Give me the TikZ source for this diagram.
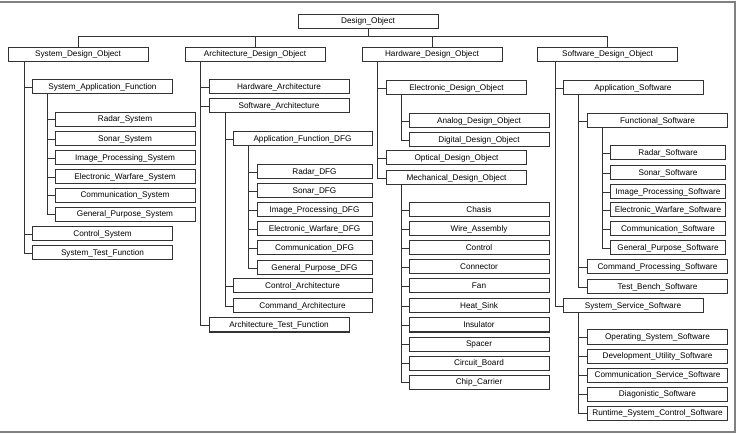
\documentclass[tikz,border=0pt]{standalone}
\usepackage{fontspec}
\setmainfont{Liberation Sans}
\usetikzlibrary{calc}

\begin{document}
\begin{tikzpicture}[x=1pt, y=-1pt,
    obj/.style={draw=black!80, line width=1pt, fill=white, minimum width=140pt, minimum height=14pt, inner sep=0pt, font=\fontsize{8.2}{9}\selectfont},
    leaf/.style={obj, minimum width=115pt},
    link/.style={draw=black!80, line width=0.9pt}]
    \useasboundingbox (0,0) rectangle (741,435);
    \draw[gray, line width=1.3pt] (0,2) -- (735,2) -- (735,432) -- (0,432);

    % root and the four top objects
    \node[obj] (root) at (368,21.5) {Design\_Object};
    \node[obj] (sysobj) at (78,54.5) {System\_Design\_Object};
    \node[obj] (archobj) at (255,54.5) {Architecture\_Design\_Object};
    \node[obj] (hwobj) at (432,54.5) {Hardware\_Design\_Object};
    \node[obj] (swobj) at (607.5,54.5) {Software\_Design\_Object};
    \coordinate (bus) at (368,36);
    \draw[link] (root.south) -- (bus);
    \foreach \n in {sysobj, archobj, hwobj, swobj}
        \draw[link] (\n.north) |- (bus);

    % system design
    \foreach \n/\t/\y in {saf/System\_Application\_Function/87, ctlsys/Control\_System/234, testsys/System\_Test\_Function/253} {
        \node[obj] (\n) at (102.5,\y) {\t};
        \draw[link] ($(sysobj.south west)+(17,0)$) |- (\n.west);
    }
    \foreach \n/\t/\y in {radsys/Radar\_System/119.5, sonsys/Sonar\_System/139, imgsys/Image\_Processing\_System/158,
        ewsys/Electronic\_Warfare\_System/177, comsys/Communication\_System/195.5, gpsys/General\_Purpose\_System/214.5} {
        \node[obj] (\n) at (125,\y) {\t};
        \draw[link] ($(saf.south west)+(15,0)$) |- (\n.west);
    }

    % architecture design
    \foreach \n/\t/\y in {hwarch/Hardware\_Architecture/87, swarch/Software\_Architecture/106, archtest/Architecture\_Test\_Function/325} {
        \node[obj] (\n) at (279,\y) {\t};
        \draw[link] ($(archobj.south west)+(16,0)$) |- (\n.west);
    }
    \foreach \n/\t/\y in {afdfg/Application\_Function\_DFG/139, ctlarch/Control\_Architecture/286, cmdarch/Command\_Architecture/306} {
        \node[obj, minimum width=139pt] (\n) at (302.5,\y) {\t};
        \draw[link] ($(swarch.south west)+(17,0)$) |- (\n.west);
    }
    \foreach \n/\t/\y in {raddfg/Radar\_DFG/172, sondfg/Sonar\_DFG/191, imgdfg/Image\_Processing\_DFG/210,
        ewdfg/Electronic\_Warfare\_DFG/229, comdfg/Communication\_DFG/248, gpdfg/General\_Purpose\_DFG/268} {
        \node[leaf] (\n) at (314.5,\y) {\t};
        \draw[link] ($(afdfg.south west)+(16,0)$) |- (\n.west);
    }

    % hardware design
    \foreach \n/\t/\y in {elec/Electronic\_Design\_Object/88, optic/Optical\_Design\_Object/158, mech/Mechanical\_Design\_Object/178} {
        \node[obj] (\n) at (456.5,\y) {\t};
        \draw[link] ($(hwobj.south west)+(16,0)$) |- (\n.west);
    }
    \foreach \n/\t/\y in {analog/Analog\_Design\_Object/121, digital/Digital\_Design\_Object/140} {
        \node[obj] (\n) at (479,\y) {\t};
        \draw[link] ($(elec.south west)+(15,0)$) |- (\n.west);
    }
    \foreach \n/\t/\y in {chasis/Chasis/210, wire/Wire\_Assembly/229, control/Control/248, connector/Connector/267, fan/Fan/286,
        sink/Heat\_Sink/306, insulator/Insulator/325, spacer/Spacer/344, board/Circuit\_Board/363, carrier/Chip\_Carrier/382} {
        \node[obj] (\n) at (479,\y) {\t};
        \draw[link] ($(mech.south west)+(15,0)$) |- (\n.west);
    }

    % software design
    \foreach \n/\t/\y in {appsw/Application\_Software/88, svcsw/System\_Service\_Software/306} {
        \node[obj] (\n) at (633,\y) {\t};
        \draw[link] ($(swobj.south west)+(18,0)$) |- (\n.west);
    }
    \foreach \n/\t/\y in {funcsw/Functional\_Software/121, cmdsw/Command\_Processing\_Software/267, tbsw/Test\_Bench\_Software/287} {
        \node[obj] (\n) at (657.5,\y) {\t};
        \draw[link] ($(appsw.south west)+(16,0)$) |- (\n.west);
    }
    \foreach \n/\t/\y in {radsw/Radar\_Software/153, sonsw/Sonar\_Software/173, imgsw/Image\_Processing\_Software/192,
        ewsw/Electronic\_Warfare\_Software/210, comsw/Communication\_Software/229, gpsw/General\_Purpose\_Software/248} {
        \node[leaf] (\n) at (668,\y) {\t};
        \draw[link] ($(funcsw.south west)+(15,0)$) |- (\n.west);
    }
    \foreach \n/\t/\y in {ossw/Operating\_System\_Software/337, devsw/Development\_Utility\_Software/356,
        comsvc/Communication\_Service\_Software/375, diagsw/Diagonistic\_Software/394, rtsw/Runtime\_System\_Control\_Software/413} {
        \node[obj] (\n) at (657.5,\y) {\t};
        \draw[link] ($(svcsw.south west)+(16,0)$) |- (\n.west);
    }
\end{tikzpicture}
\end{document}
